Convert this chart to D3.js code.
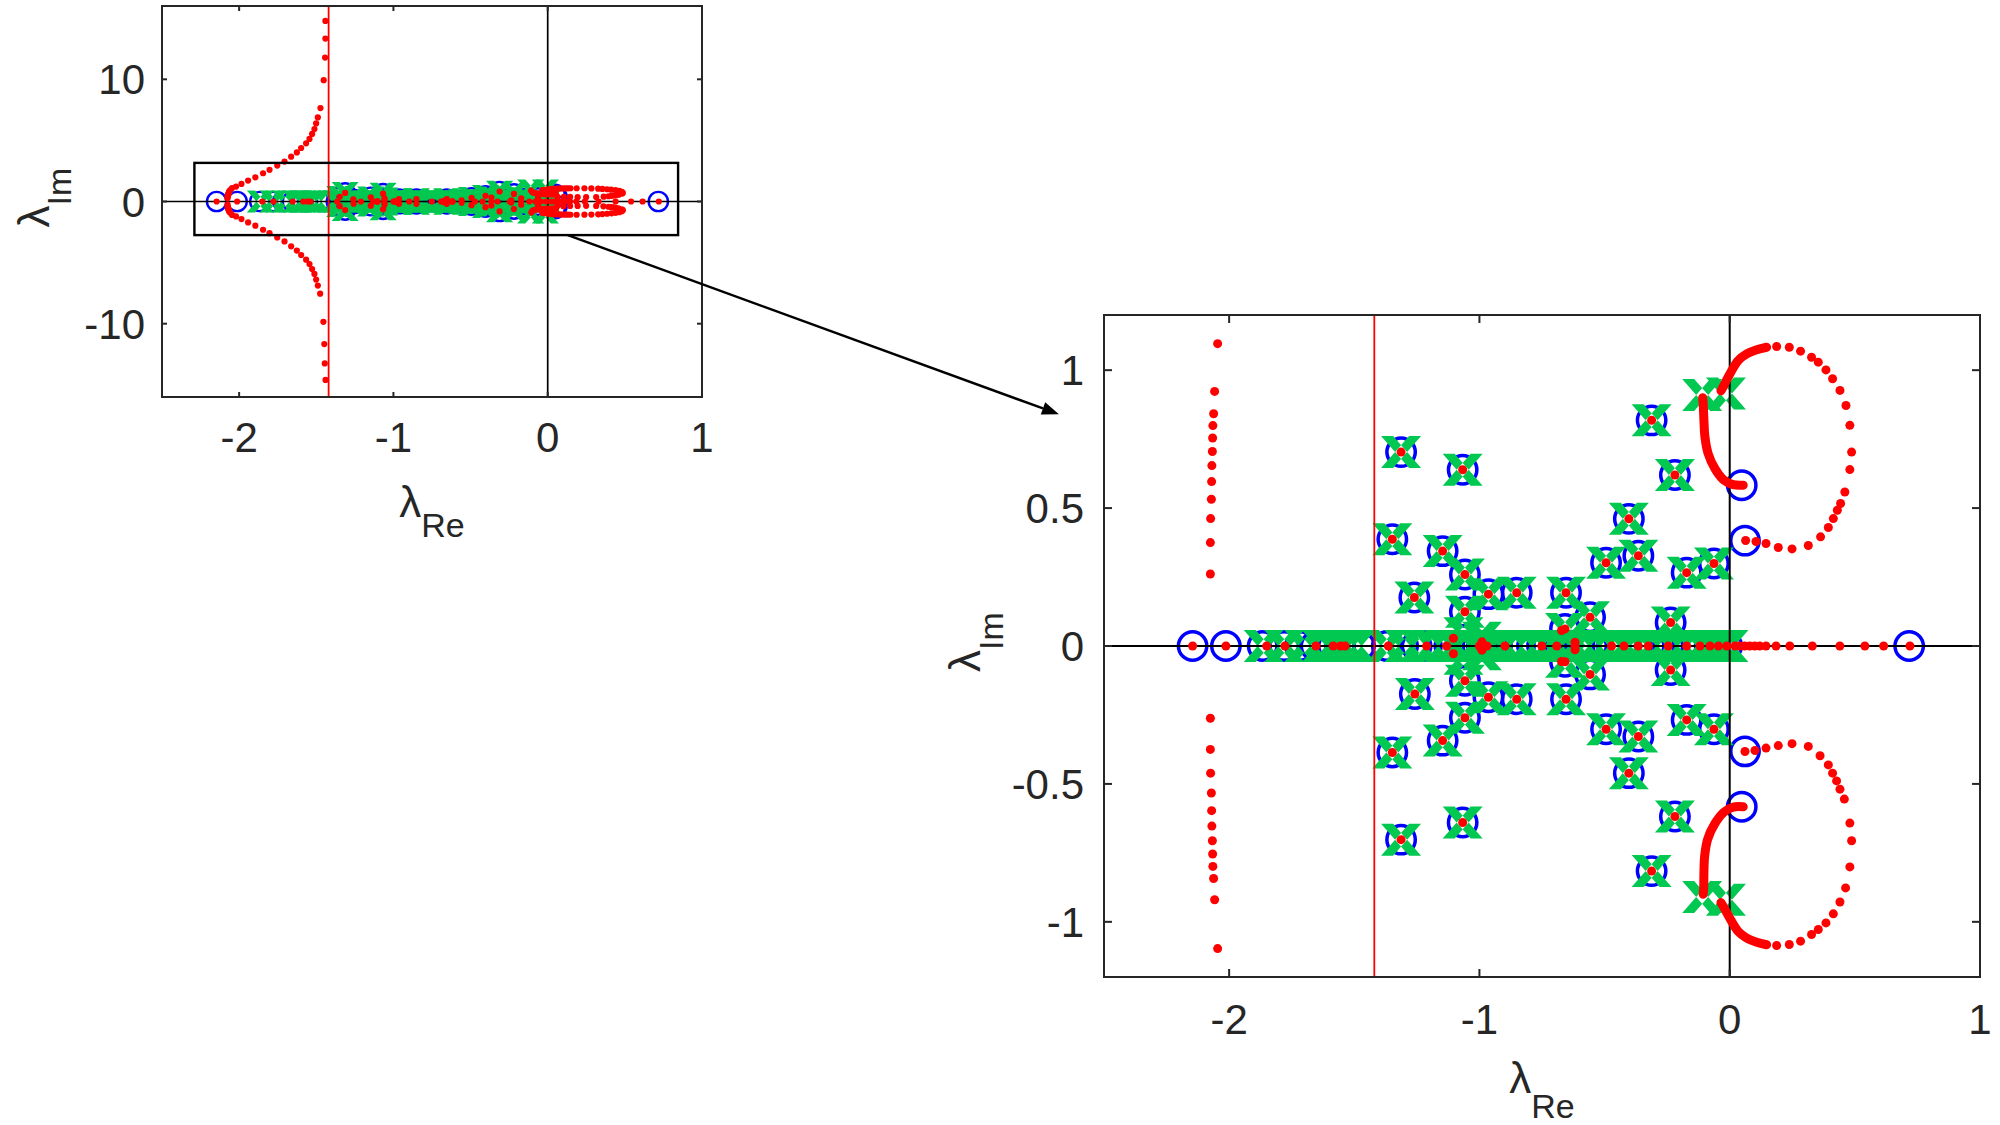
<!DOCTYPE html>
<html><head><meta charset="utf-8">
<script src="https://cdn.jsdelivr.net/npm/d3@7"></script>
<style>body{margin:0;background:#fff}svg{display:block}</style>
</head><body>
<svg id="c" width="2000" height="1125"></svg>
<script>
// ---------------- DATA ----------------
const xTickVals = [-2, -1, 0, 1];
const xTickLabels = ["-2", "-1", "0", "1"];
const bigYTickVals = [-1, -0.5, 0, 0.5, 1];
const bigYTickLabels = ["-1", "-0.5", "0", "0.5", "1"];
const smallYTickVals = [-10, 0, 10];
const smallYTickLabels = ["-10", "0", "10"];
const xDomain = [-2.5, 1];
const bigYDomain = [-1.2, 1.2];
const smallYDomain = [-16, 16];
const stabilityLineRe = -1.42;
const zoomRectRe = [-2.29, 0.845];
const zoomRectIm = [-2.75, 3.16];
const arrowFrom = [0.13, -2.75];   // small panel data coords
const arrowTo = [-2.68, 0.84];     // big panel data coords

// complex modes: zero (o) + pole (x) + locus point, all at the same spot
const pairedModes = [
  [-1.313,0.703],[-1.067,0.639],[-0.312,0.818],[-0.219,0.620],[-0.403,0.461],
  [-1.348,0.387],[-1.147,0.344],[-1.058,0.259],[-0.964,0.188],[-0.851,0.193],
  [-1.260,0.176],[-1.058,0.124],[-0.654,0.193],[-0.494,0.302],[-0.365,0.327],
  [-0.172,0.266],[-0.063,0.299],[-0.558,0.104],[-0.236,0.085],[-0.658,0.062],
  [-1.313,-0.702],[-1.067,-0.640],[-0.312,-0.816],[-0.219,-0.618],[-0.403,-0.461],
  [-1.348,-0.386],[-1.147,-0.343],[-1.058,-0.260],[-0.964,-0.186],[-0.851,-0.193],
  [-1.258,-0.174],[-1.058,-0.126],[-0.654,-0.193],[-0.494,-0.302],[-0.365,-0.328],
  [-0.172,-0.268],[-0.063,-0.302],[-0.558,-0.103],[-0.236,-0.087],[-0.658,-0.057]
];
// poles (x) close to the real axis
const nearAxisPoles = [[-1.064,0.046],[-1.064,-0.046],[-0.99,0.03],[-0.99,-0.03]];
// poles (x) on the real axis
const axisPoles = [-1.862,-1.78,-1.70,-1.63,-1.59,-1.555,-1.525,-1.495,
  -1.37,-1.30,-1.24,-1.19,-1.14,-1.10,-1.06,-1.02,-0.98,-0.94,-0.90,-0.855,-0.81,-0.77,-0.73,
  -0.69,-0.655,-0.62,-0.58,-0.54,-0.50,-0.46,-0.42,-0.385,-0.35,-0.31,-0.27,-0.23,-0.19,
  -0.15,-0.11,-0.075,-0.04,-0.005];
// zeros (o) on the real axis
const axisZeros = [-2.146,-2.013,-1.866,-1.78,-1.717,-1.655,-1.585,-1.557,-1.477,-1.37,-1.305,
  -1.251,-1.21,-1.12,-1.06,-0.99,-0.93,-0.838,-0.79,-0.75,-0.70,-0.655,-0.60,-0.55,-0.47,-0.42,
  -0.37,-0.32,-0.245,-0.17,-0.12,-0.08,-0.01,0.717];
// other poles and zeros
const extraPoles = [[-0.11,0.91],[-0.015,0.915],[-0.11,-0.91],[-0.015,-0.92]];
const extraZeros = [[0.048,0.583],[0.061,0.382],[0.048,-0.583],[0.061,-0.382]];

// locus points on the real axis
const locusAxisRe = [-2.146,-2.013,-1.85,-1.777,-1.653,-1.584,-1.555,-1.537,-1.364,-1.211,-1.131,
  -1.0,-0.97,-0.898,-0.751,-0.691,-0.618,-0.472,-0.4225,-0.365,-0.325,-0.2455,-0.172,-0.119,
  -0.079,-0.045,-0.012,0.021,0.04,0.06,0.08,0.1,0.12,0.145,0.185,0.24,0.33,0.44,0.54,0.615,0.72];
// locus points close to the real axis
const locusNearAxis = [[-1.104,0.028],[-1.104,-0.028],[-0.99,0.015],[-0.99,-0.015],
  [-0.672,0.056],[-0.672,-0.056],[-0.618,0.014],[-0.618,-0.014]];
// locus branch towards high frequency (left)
const locusBranch = [
  [-1.441,14.78],[-1.441,13.33],[-1.443,11.78],[-1.452,9.93],[-1.473,7.65],[-1.49,6.88],
  [-1.501,6.39],[-1.512,5.93],[-1.527,5.53],[-1.544,5.12],[-1.566,4.76],[-1.598,4.38],
  [-1.626,4.02],[-1.663,3.67],[-1.706,3.27],[-1.753,2.94],[-1.803,2.59],[-1.845,2.31],
  [-1.895,1.98],[-1.942,1.71],[-1.985,1.44],[-2.02,1.22],
  [-2.046,1.096],[-2.058,0.923],[-2.062,0.842],[-2.065,0.799],[-2.066,0.754],[-2.067,0.705],
  [-2.069,0.654],[-2.070,0.596],[-2.071,0.532],[-2.074,0.462],[-2.075,0.375],[-2.075,0.261],
  [-2.075,-0.262],[-2.075,-0.375],[-2.074,-0.461],[-2.071,-0.533],[-2.070,-0.597],[-2.069,-0.653],
  [-2.067,-0.706],[-2.066,-0.754],[-2.065,-0.799],[-2.062,-0.843],[-2.058,-0.920],[-2.046,-1.097],
  [-2.02,-1.22],[-1.985,-1.44],[-1.942,-1.71],[-1.895,-1.98],[-1.845,-2.31],[-1.803,-2.59],
  [-1.753,-2.94],[-1.706,-3.27],[-1.663,-3.67],[-1.626,-4.02],[-1.598,-4.38],[-1.566,-4.76],
  [-1.544,-5.12],[-1.527,-5.53],[-1.512,-5.93],[-1.501,-6.39],[-1.49,-6.88],[-1.475,-7.54],
  [-1.454,-9.85],[-1.448,-11.67],[-1.445,-13.25],[-1.44,-14.6]
];
// sparse part of the two loops
const loopUpper = [[0.1875,1.086],[0.238,1.083],[0.283,1.069],[0.327,1.047],[0.354,1.029],
  [0.3845,1.001],[0.411,0.969],[0.4405,0.9265],[0.4645,0.872],[0.480,0.80],[0.487,0.703],
  [0.48,0.6395],[0.46,0.5585],[0.443,0.5165],[0.43,0.492],[0.414,0.462],[0.394,0.4295],
  [0.363,0.3957],[0.314,0.3643],[0.249,0.352],[0.194,0.357],[0.145,0.3717],[0.105,0.379],[0.0636,0.3825]];
const loopLower = [[0.061,-0.3825],[0.101,-0.379],[0.145,-0.370],[0.194,-0.361],[0.249,-0.354],
  [0.314,-0.364],[0.361,-0.398],[0.394,-0.431],[0.411,-0.461],[0.427,-0.489],[0.4405,-0.519],
  [0.458,-0.555],[0.480,-0.642],[0.487,-0.706],[0.480,-0.801],[0.463,-0.877],[0.4405,-0.928],
  [0.414,-0.971],[0.3845,-1.004],[0.354,-1.028],[0.327,-1.046],[0.283,-1.070],[0.238,-1.082],[0.1875,-1.086]];
// densely sampled parts of the locus (drawn as continuous strokes)
const denseUpperA = [[-0.108,0.90],[-0.106,0.878],[-0.103,0.818],[-0.099,0.758],[-0.086,0.697],
  [-0.059,0.643],[-0.025,0.603],[0.014,0.585],[0.054,0.583]];
const denseUpperB = [[-0.035,0.925],[-0.023,0.945],[0.001,0.987],[0.034,1.035],[0.068,1.059],
  [0.108,1.074],[0.1475,1.083]];
const denseLowerA = [[-0.106,-0.90],[-0.104,-0.88],[-0.103,-0.82],[-0.100,-0.76],[-0.088,-0.70],
  [-0.06,-0.645],[-0.024,-0.603],[0.014,-0.584],[0.054,-0.583]];
const denseLowerB = [[-0.035,-0.93],[-0.023,-0.948],[0.001,-0.988],[0.034,-1.035],[0.068,-1.059],
  [0.108,-1.074],[0.1475,-1.083]];

// ---------------- DRAWING ----------------
const svg = d3.select("#c");
const FONT = "'Liberation Sans', Arial, Helvetica, sans-serif";
const AXC = "#262626";
const GREEN = "#00c850";

const panels = [
  {id: "small", left: 162, right: 702, top: 6, bottom: 397, yDom: smallYDomain,
   yTicks: smallYTickVals, yLabels: smallYTickLabels, ms: 0.68, dotR: 3.1, tick: 5,
   lineW: 1.7, xlabBase: 517, subDy: 20, ylabBase: 49, ySubDy: 22, yLabGap: 17, xTickBase: 55},
  {id: "big", left: 1104, right: 1980, top: 315, bottom: 977, yDom: bigYDomain,
   yTicks: bigYTickVals, yLabels: bigYTickLabels, ms: 1, dotR: 4.5, tick: 8,
   lineW: 2, xlabBase: 1093, subDy: 25, ylabBase: 980, ySubDy: 23, yLabGap: 20, xTickBase: 57}
];

const defs = svg.append("defs");
const scales = {};

function xPath(s) {
  const W = 20 * s, H = 16 * s, t = 12 * s;
  return `M${-W},${-H}L${-W + t},${-H}L${W},${H}L${W - t},${H}Z` +
         `M${W},${-H}L${W - t},${-H}L${-W},${H}L${-W + t},${H}Z`;
}

panels.forEach(p => {
  const x = d3.scaleLinear().domain(xDomain).range([p.left, p.right]);
  const y = d3.scaleLinear().domain(p.yDom).range([p.bottom, p.top]);
  scales[p.id] = {x, y};
  defs.append("clipPath").attr("id", "clip-" + p.id)
    .append("rect").attr("x", p.left).attr("y", p.top)
    .attr("width", p.right - p.left).attr("height", p.bottom - p.top);

  const g = svg.append("g");
  const plot = g.append("g").attr("clip-path", `url(#clip-${p.id})`);
  const inY = d => d[1] >= p.yDom[0] && d[1] <= p.yDom[1];

  // zeros: blue circles
  const zeroPts = axisZeros.map(r => [r, 0]).concat(extraZeros, pairedModes).filter(inY);
  plot.selectAll("circle.zero").data(zeroPts).join("circle").attr("class", "zero")
    .attr("cx", d => x(d[0])).attr("cy", d => y(d[1]))
    .attr("r", 14.2 * p.ms).attr("fill", "none").attr("stroke", "#0000ff")
    .attr("stroke-width", 3.5 * p.ms);

  // poles: green crosses
  const polePts = axisPoles.map(r => [r, 0]).concat(nearAxisPoles, extraPoles, pairedModes).filter(inY);
  plot.selectAll("path.pole").data(polePts).join("path").attr("class", "pole")
    .attr("transform", d => `translate(${x(d[0])},${y(d[1])})`)
    .attr("d", xPath(p.ms)).attr("fill", GREEN);

  // zero lines and stability line
  plot.append("line").attr("x1", p.left).attr("x2", p.right).attr("y1", y(0)).attr("y2", y(0))
    .attr("stroke", "#000").attr("stroke-width", p.lineW);
  plot.append("line").attr("x1", x(0)).attr("x2", x(0)).attr("y1", p.top).attr("y2", p.bottom)
    .attr("stroke", "#000").attr("stroke-width", p.lineW);
  plot.append("line").attr("x1", x(stabilityLineRe)).attr("x2", x(stabilityLineRe))
    .attr("y1", p.top).attr("y2", p.bottom).attr("stroke", "#ff0000").attr("stroke-width", 1.8);

  // dense locus strokes
  const line = d3.line().x(d => x(d[0])).y(d => y(d[1])).curve(d3.curveCatmullRom);
  [denseUpperA, denseUpperB, denseLowerA, denseLowerB].forEach(seg => {
    plot.append("path").attr("d", line(seg)).attr("fill", "none").attr("stroke", "#ff0000")
      .attr("stroke-width", p.dotR * 2).attr("stroke-linecap", "round");
  });

  // locus dots
  const dots = locusAxisRe.map(r => [r, 0]).concat(locusNearAxis, locusBranch, loopUpper, loopLower, pairedModes);
  plot.selectAll("circle.dot").data(dots).join("circle").attr("class", "dot")
    .attr("cx", d => x(d[0])).attr("cy", d => y(d[1])).attr("r", p.dotR).attr("fill", "#ff0000");

  // axes box
  g.append("rect").attr("x", p.left).attr("y", p.top).attr("width", p.right - p.left)
    .attr("height", p.bottom - p.top).attr("fill", "none").attr("stroke", AXC).attr("stroke-width", 2);

  // ticks (inside, all four sides)
  xTickVals.forEach(v => {
    const X = x(v);
    g.append("line").attr("x1", X).attr("x2", X).attr("y1", p.bottom).attr("y2", p.bottom - p.tick).attr("stroke", AXC).attr("stroke-width", 2);
    g.append("line").attr("x1", X).attr("x2", X).attr("y1", p.top).attr("y2", p.top + p.tick).attr("stroke", AXC).attr("stroke-width", 2);
  });
  p.yTicks.forEach(v => {
    const Y = y(v);
    g.append("line").attr("x1", p.left).attr("x2", p.left + p.tick).attr("y1", Y).attr("y2", Y).attr("stroke", AXC).attr("stroke-width", 2);
    g.append("line").attr("x1", p.right).attr("x2", p.right - p.tick).attr("y1", Y).attr("y2", Y).attr("stroke", AXC).attr("stroke-width", 2);
  });
  // tick labels
  g.selectAll("text.xt").data(xTickVals).join("text").attr("class", "xt")
    .attr("x", d => x(d)).attr("y", p.bottom + p.xTickBase).attr("text-anchor", "middle")
    .attr("font-family", FONT).attr("font-size", 42).attr("fill", AXC)
    .text((d, i) => xTickLabels[i]);
  g.selectAll("text.yt").data(p.yTicks).join("text").attr("class", "yt")
    .attr("x", p.left - p.yLabGap).attr("y", d => y(d)).attr("dy", "0.36em")
    .attr("text-anchor", "end").attr("font-family", FONT).attr("font-size", 42).attr("fill", AXC)
    .text((d, i) => p.yLabels[i]);

  // axis labels
  const xl = g.append("text").attr("x", (p.left + p.right) / 2).attr("y", p.xlabBase)
    .attr("text-anchor", "middle").attr("font-family", FONT).attr("fill", AXC);
  xl.append("tspan").attr("font-size", 44).text("λ");
  xl.append("tspan").attr("font-size", 34).attr("dy", p.subDy).text("Re");

  const yl = g.append("text")
    .attr("transform", `translate(${p.ylabBase},${(p.top + p.bottom) / 2 - 4}) rotate(-90)`)
    .attr("text-anchor", "middle").attr("font-family", FONT).attr("fill", AXC);
  yl.append("tspan").attr("font-size", 44).text("λ");
  yl.append("tspan").attr("font-size", 34).attr("dy", p.ySubDy).text("Im");
});

// zoom rectangle in the small panel
const sx = scales.small.x, sy = scales.small.y;
svg.append("rect").attr("x", sx(zoomRectRe[0])).attr("y", sy(zoomRectIm[1]))
  .attr("width", sx(zoomRectRe[1]) - sx(zoomRectRe[0])).attr("height", sy(zoomRectIm[0]) - sy(zoomRectIm[1]))
  .attr("fill", "none").attr("stroke", "#000").attr("stroke-width", 2.4);

// arrow from rectangle to big panel
const bx = scales.big.x, by = scales.big.y;
const x1 = sx(arrowFrom[0]), y1 = sy(arrowFrom[1]);
const x2 = bx(arrowTo[0]), y2 = by(arrowTo[1]);
const ang = Math.atan2(y2 - y1, x2 - x1);
const hl = 17, hw = 6.5;
svg.append("line").attr("x1", x1).attr("y1", y1)
  .attr("x2", x2 - hl * Math.cos(ang)).attr("y2", y2 - hl * Math.sin(ang))
  .attr("stroke", "#000").attr("stroke-width", 2.4);
svg.append("path")
  .attr("d", `M${x2},${y2}L${x2 - hl * Math.cos(ang) + hw * Math.sin(ang)},${y2 - hl * Math.sin(ang) - hw * Math.cos(ang)}` +
             `L${x2 - hl * Math.cos(ang) - hw * Math.sin(ang)},${y2 - hl * Math.sin(ang) + hw * Math.cos(ang)}Z`)
  .attr("fill", "#000");
</script>
</body></html>
